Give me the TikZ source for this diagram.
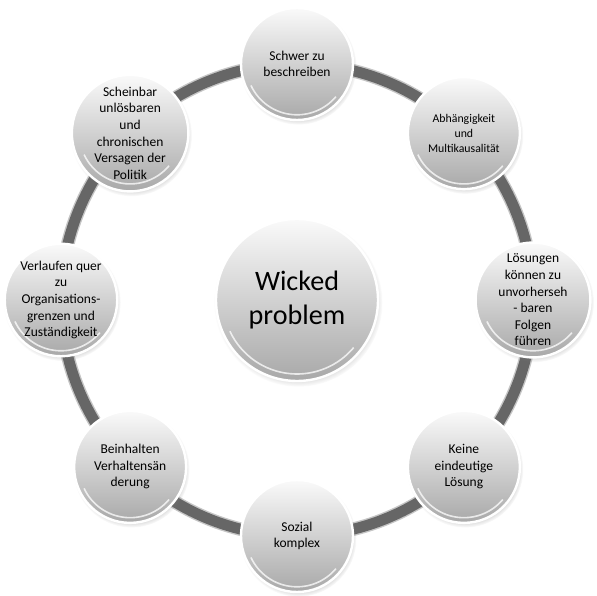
\documentclass[tikz,border=0pt]{standalone}
\usepackage{fontspec}
\setmainfont{Carlito}
\usepackage{tikz}
\usetikzlibrary{shadows,backgrounds}

\begin{document}
\begin{tikzpicture}[
      ball/.style={circle, draw=white, line width=0.06cm, top color=gray!4,
        bottom color=gray!68, align=center, minimum size=2.8cm, inner sep=0pt,
        circular drop shadow={shadow xshift=0.03cm, shadow yshift=-0.06cm,
          shadow scale=1.04, opacity=0.45},
        glint=1.27, font=\fontsize{9.6}{11.8}\selectfont},
      glint/.style={path picture={
          \draw[white, opacity=0.75, line width=0.04cm]
            ([shift={(-155:#1)}]path picture bounding box.center)
            arc[start angle=-155, end angle=-40, radius=#1];}},
      hubball/.style={ball, minimum size=4.05cm, glint=1.85,
        font=\fontsize{20}{23.5}\selectfont},
      ring/.style={line width=0.27cm, draw=black!60,
        preaction={draw=gray!45, line width=0.34cm}}]
    \useasboundingbox (-7.425,-7.4) rectangle (7.5,7.5);

    \node[hubball] (hub) at (0,0) {Wicked\\problem};

    \node[ball] (schwer) at (90:5.9) {Schwer zu\\beschreiben};
    \node[ball, font=\fontsize{8.4}{10.6}\selectfont] (abh) at (45:5.9)
      {Abhängigkeit\\und\\Multikausalität};
    \node[ball] (folgen) at (0:5.9)
      {Lösungen\\können zu\\unvorherseh\\- baren\\Folgen\\führen};
    \node[ball] (keine) at (-45:5.9) {Keine\\eindeutige\\Lösung};
    \node[ball] (sozial) at (-90:5.9) {Sozial\\komplex};
    \node[ball] (verhalten) at (-135:5.9) {Beinhalten\\Verhaltensän\\derung};
    \node[ball] (quer) at (180:5.9)
      {Verlaufen quer\\zu\\Organisations-\\grenzen und\\Zuständigkeit};
    \node[ball] (politik) at (135:5.9)
      {Scheinbar\\unlösbaren\\und\\chronischen\\Versagen der\\Politik};

    \begin{scope}[on background layer]
      \draw[ring] (schwer.center) arc[start angle=90, end angle=45, radius=5.9];
      \draw[ring] (abh.center) arc[start angle=45, end angle=0, radius=5.9];
      \draw[ring] (folgen.center) arc[start angle=0, end angle=-45, radius=5.9];
      \draw[ring] (keine.center) arc[start angle=-45, end angle=-90, radius=5.9];
      \draw[ring] (sozial.center) arc[start angle=-90, end angle=-135, radius=5.9];
      \draw[ring] (verhalten.center) arc[start angle=-135, end angle=-180, radius=5.9];
      \draw[ring] (quer.center) arc[start angle=180, end angle=135, radius=5.9];
      \draw[ring] (politik.center) arc[start angle=135, end angle=90, radius=5.9];
    \end{scope}
  \end{tikzpicture}
\end{document}
